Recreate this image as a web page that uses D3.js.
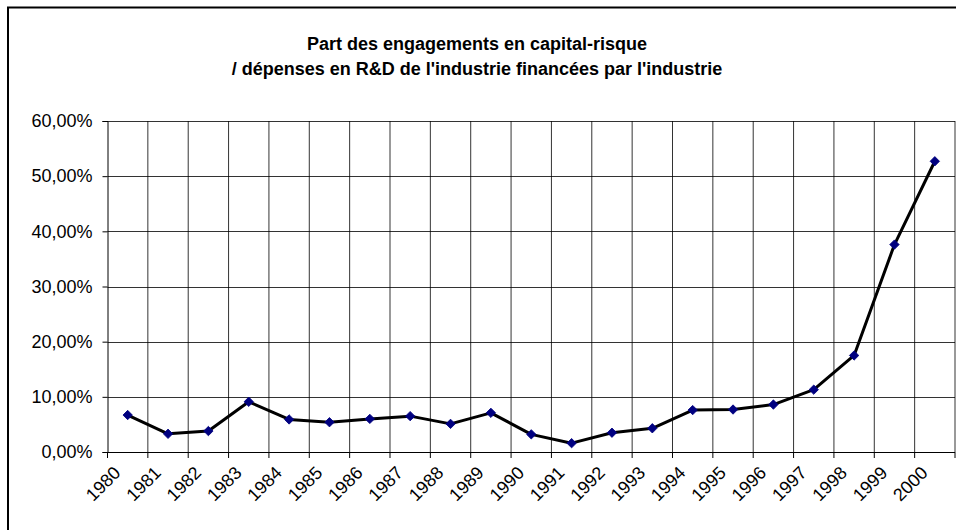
<!DOCTYPE html>
<html>
<head>
<meta charset="utf-8">
<script src="https://cdn.jsdelivr.net/npm/d3@7"></script>
<style>
html,body{margin:0;padding:0;background:#fff;}
svg{display:block;}
</style>
</head>
<body>
<svg id="chart" width="956" height="530"></svg>
<script>
const years = ["1980","1981","1982","1983","1984","1985","1986","1987","1988","1989","1990","1991","1992","1993","1994","1995","1996","1997","1998","1999","2000"];
const shares = [0.067,0.033,0.038,0.091,0.059,0.054,0.060,0.065,0.051,0.071,0.032,0.016,0.035,0.043,0.076,0.077,0.086,0.113,0.175,0.376,0.527];
const yTicks = [0,0.1,0.2,0.3,0.4,0.5,0.6];
const titleLines = ["Part des engagements en capital-risque","/ dépenses en R&D de l'industrie financées par l'industrie"];

const svg = d3.select("#chart");
const W = 956, H = 530;
const m = {left:107.5, right:955, top:121, bottom:452};

svg.append("rect").attr("x",0).attr("y",0).attr("width",W).attr("height",H).attr("fill","#fff");
svg.append("rect").attr("x",8).attr("y",7.5).attr("width",1000).attr("height",1000)
  .attr("fill","#fff").attr("stroke","#000").attr("stroke-width",2);

const x = d3.scaleBand().domain(years).range([m.left,m.right]).paddingInner(0).paddingOuter(0);
const y = d3.scaleLinear().domain([0,0.6]).range([m.bottom,m.top]);

// title
const t = svg.append("text").attr("text-anchor","middle")
  .attr("font-family","'Liberation Sans', Arial, sans-serif").attr("font-weight","bold")
  .attr("font-size","18px").attr("fill","#000");
titleLines.forEach((l,i)=>{
  t.append("tspan").attr("x",477).attr("y",50+i*25).text(l);
});

// horizontal gridlines
const g = svg.append("g");
g.selectAll(".hg").data(yTicks).join("line")
  .attr("x1",m.left).attr("x2",m.right)
  .attr("y1",d=>Math.round(y(d))+0.5).attr("y2",d=>Math.round(y(d))+0.5)
  .attr("stroke","#000").attr("stroke-width",1).attr("stroke-opacity",0.8);

// vertical gridlines at category boundaries
const bounds = years.map(d=>x(d)).concat([m.right]);
g.selectAll(".vg").data(bounds.slice(1)).join("line")
  .attr("x1",d=>d).attr("x2",d=>d)
  .attr("y1",m.top).attr("y2",m.bottom)
  .attr("stroke","#000").attr("stroke-width",1).attr("stroke-opacity",0.8);

// y axis
const yAxis = d3.axisLeft(y).tickValues(yTicks).tickSize(5).tickPadding(10)
  .tickFormat(d=>d3.format(".2f")(d*100).replace(".",",")+"%");
const ya = svg.append("g").attr("transform",`translate(${m.left},0)`).call(yAxis);
ya.select(".domain").attr("stroke","#000").attr("stroke-width",1);
ya.selectAll(".tick line").attr("stroke","#000");
ya.selectAll(".tick text").attr("font-family","'Liberation Sans', Arial, sans-serif")
  .attr("font-size","18px").attr("fill","#000");

// x axis line and ticks at boundaries
svg.append("line").attr("x1",m.left).attr("x2",m.right)
  .attr("y1",m.bottom+0.5).attr("y2",m.bottom+0.5).attr("stroke","#000").attr("stroke-width",1.2);
svg.selectAll(".xt").data(bounds).join("line")
  .attr("x1",d=>d).attr("x2",d=>d).attr("y1",m.bottom).attr("y2",m.bottom+6)
  .attr("stroke","#000");

// x labels rotated
svg.selectAll(".xl").data(years).join("text")
  .attr("text-anchor","end")
  .attr("font-family","'Liberation Sans', Arial, sans-serif")
  .attr("font-size","18px").attr("fill","#000")
  .attr("transform",d=>`translate(${x(d)+x.bandwidth()/2-6},${m.bottom+22}) rotate(-45)`)
  .text(d=>d);

// line
const line = d3.line().x((d,i)=>x(years[i])+x.bandwidth()/2).y(d=>y(d));
svg.append("path").datum(shares).attr("d",line)
  .attr("fill","none").attr("stroke","#000").attr("stroke-width",3).attr("stroke-linejoin","round");

// markers
const sym = d3.symbol().type(d3.symbolSquare).size(44);
svg.selectAll(".mk").data(shares).join("path")
  .attr("d",sym)
  .attr("transform",(d,i)=>`translate(${x(years[i])+x.bandwidth()/2},${y(d)}) rotate(45)`)
  .attr("fill","#000080").attr("stroke","#000080").attr("stroke-width",0.8);
</script>
</body>
</html>
